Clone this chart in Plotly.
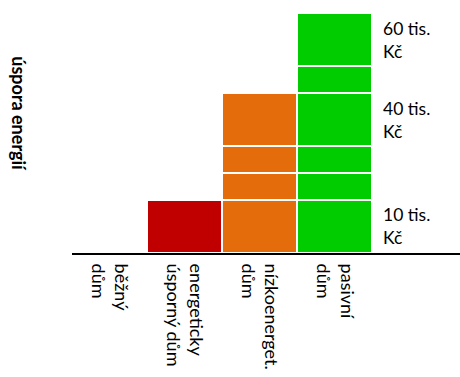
import plotly.graph_objects as go

# Categories (house standards) and stacked saving blocks per category
categories = ["běžný<br>dům", "energeticky<br>úsporný dům", "nízkoenerget.<br>dům", "pasivní<br>dům"]
bar_colors = ["#7F7F7F", "#C00000", "#E46C0A", "#00CC00"]

# Each list is one stacking level; None = no block for that category
level_1 = [None, 2, 2, 2]
level_2 = [None, None, 1, 1]
level_3 = [None, None, 1, 1]
level_4 = [None, None, 2, 2]
level_5 = [None, None, None, 1]
level_6 = [None, None, None, 2]
levels = [level_1, level_2, level_3, level_4, level_5, level_6]

# Extra investment labels beside the pasivní stack: (label, stack level index)
cost_labels = ["10 tis.<br>Kč", "40 tis.<br>Kč", "60 tis.<br>Kč"]
cost_levels = [0, 3, 5]

FONT = "Lato"

fig = go.Figure()
for lv in levels:
    fig.add_trace(go.Bar(
        x=list(range(len(categories))),
        y=lv,
        marker=dict(color=bar_colors, line=dict(color="white", width=2)),
        width=1.0,
        hoverinfo="skip",
        showlegend=False,
    ))

# Place cost labels at the middle of the matching block in the last stack
last = len(categories) - 1
cum = 0
bounds = []
for lv in levels:
    v = lv[last] or 0
    bounds.append((cum, cum + v))
    cum += v
for text, idx in zip(cost_labels, cost_levels):
    lo, hi = bounds[idx]
    fig.add_annotation(
        x=last + 0.62, y=(lo + hi) / 2, xref="x", yref="y",
        text=text, showarrow=False, xanchor="left", yanchor="middle",
        align="left", font=dict(family=FONT, size=17.5, color="black"),
    )

fig.add_annotation(
    x=-0.137, y=0.56, xref="paper", yref="paper",
    text="<b>úspora energií</b>", textangle=90, showarrow=False,
    xanchor="center", yanchor="middle",
    font=dict(family=FONT, size=18, color="black"),
)

fig.update_layout(
    width=460, height=377,
    margin=dict(l=72, r=0, t=5, b=124),
    barmode="stack", bargap=0,
    plot_bgcolor="white", paper_bgcolor="white",
    font=dict(family=FONT, size=16, color="black"),
)
fig.update_xaxes(
    range=[-0.5, 4.67],
    tickmode="array", tickvals=list(range(len(categories))), ticktext=categories,
    tickangle=90, showline=True, linecolor="black", linewidth=2,
    ticks="", showgrid=False, zeroline=False, ticklabelstandoff=5,
    tickfont=dict(family=FONT, size=18, color="black"),
)
fig.update_yaxes(
    range=[0, 9.3], showticklabels=False, showgrid=False,
    zeroline=False, showline=False, ticks="",
)

fig.write_html("out.html")
